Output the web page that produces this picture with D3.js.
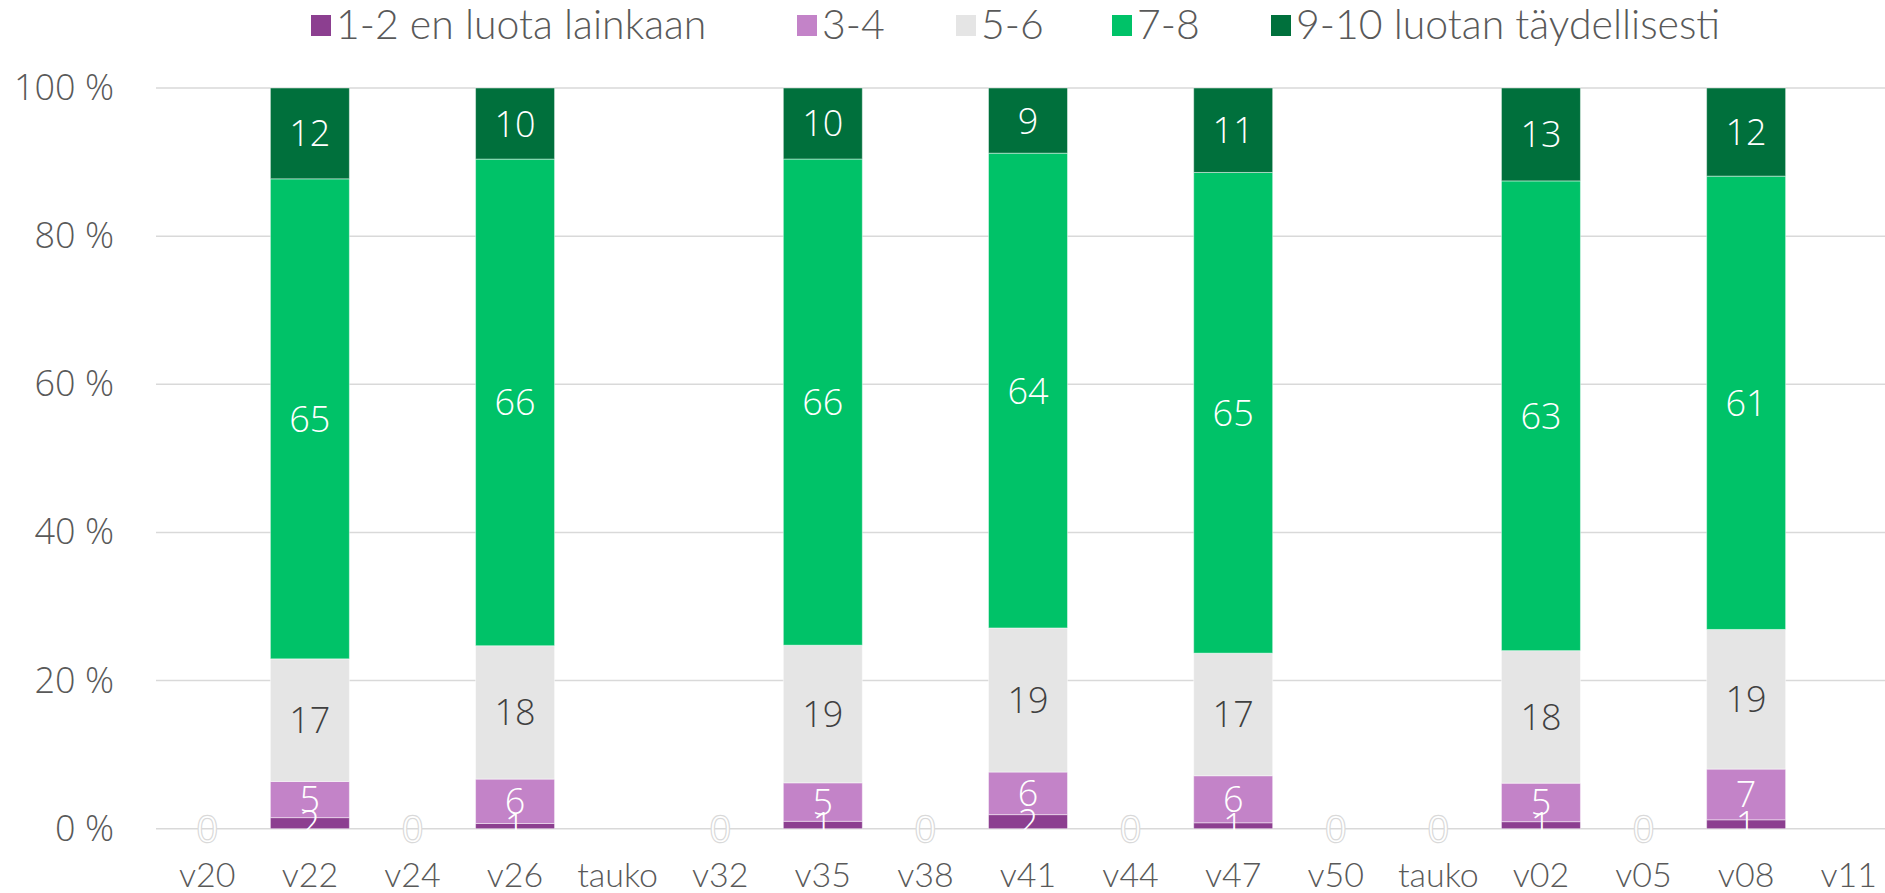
<!DOCTYPE html>
<html>
<head>
<meta charset="utf-8">
<script src="https://cdn.jsdelivr.net/npm/d3@7"></script>
<style>
    body { margin: 0; background: #fff; overflow: hidden; }
    #chart { width: 1885px; height: 893px; }
    .legend text { font-family: Lato, sans-serif; font-weight: 300; font-size: 41px; fill: #595959; }
    .x.axis text { font-family: Lato, sans-serif; font-weight: 300; font-size: 34px; fill: #595959; }
    .y.axis text { font-family: "Open Sans", sans-serif; font-weight: 300; font-size: 36px; fill: #595959; }
    .label { font-family: "Open Sans", sans-serif; font-weight: 300; font-size: 36px; }
    .label.zero { paint-order: stroke; font-size: 37px; }
</style>
</head>
<body>
<div id="chart"></div>
<script>
// weeks on the x axis ("tauko" = break)
const weeks = ['v20', 'v22', 'v24', 'v26', 'tauko', 'v32', 'v35', 'v38', 'v41', 'v44', 'v47', 'v50', 'tauko', 'v02', 'v05', 'v08', 'v11'];

const seriesNames = ['1-2 en luota lainkaan', '3-4', '5-6', '7-8', '9-10 luotan täydellisesti'];

// share of answers, % (null = no measurement)
const s1_2  = [0, 1.5,  0, 0.7,  null, 0, 1.0,  0, 1.9,   0, 0.8,   0, 0, 0.95,  0, 1.2,   null];
const s3_4  = [0, 4.9,  0, 6.0,  null, 0, 5.2,  0, 5.75,  0, 6.35,  0, 0, 5.2,   0, 6.85,  null];
const s5_6  = [0, 16.6, 0, 18.0, null, 0, 18.6, 0, 19.45, 0, 16.55, 0, 0, 17.9,  0, 18.85, null];
const s7_8  = [0, 65.0, 0, 65.7, null, 0, 65.7, 0, 64.1,  0, 64.9,  0, 0, 63.45, 0, 61.2,  null];
const s9_10 = [0, 12.3, 0, 9.6,  null, 0, 9.6,  0, 8.8,   0, 11.4,  0, 0, 12.55, 0, 11.9,  null];

const yTicks = [0, 0.2, 0.4, 0.6, 0.8, 1];

const colors = ['#8c3f90', '#c383c8', '#e5e5e5', '#00c268', '#00703c'];
const labelColors = ['#fff', '#fff', '#404040', '#fff', '#fff'];
const legendX = [311, 797, 956, 1112, 1271];

class StackedChart {

    constructor(opts) {
        this.element = opts.element;
        this.series = opts.series;
        this.draw();
    }

    draw() {
        this.width = 1885;
        this.height = 893;
        this.margin = { top: 88, right: -15, bottom: 64, left: 156 };

        this.rows = weeks.map((w, i) => {
            const row = { idx: i, week: w, empty: this.series.every(s => !s[i]) };
            this.series.forEach((s, k) => row[k] = s[i]);
            return row;
        });

        const svg = d3.select(this.element).append('svg')
            .attr('width', this.width)
            .attr('height', this.height);
        this.svg = svg;

        this.createScales();
        this.addGrid();
        this.addBars();
        this.addAxes();
        this.addLabels();
        this.addLegend();
    }

    createScales() {
        this.xScale = d3.scaleBand()
            .domain(weeks.map((w, i) => i))
            .range([this.margin.left, this.width - this.margin.right])
            .paddingInner(0.23)
            .paddingOuter(0.115);

        this.yScale = d3.scaleLinear()
            .domain([0, 1])
            .range([this.height - this.margin.bottom - 0.3, this.margin.top]);

        this.stacked = d3.stack()
            .keys(this.series.map((s, k) => k))
            .value((d, k) => d[k] || 0)
            .offset(d3.stackOffsetExpand)(this.rows);
    }

    addGrid() {
        this.svg.append('g')
            .selectAll('line')
            .data(yTicks)
            .join('line')
            .attr('x1', this.margin.left)
            .attr('x2', this.width)
            .attr('y1', d => this.yScale(d))
            .attr('y2', d => this.yScale(d))
            .attr('stroke', '#d9d9d9')
            .attr('stroke-width', 1.5);
    }

    addBars() {
        this.svg.append('g')
            .selectAll('g')
            .data(this.stacked)
            .join('g')
            .attr('fill', d => colors[d.key])
            .selectAll('rect')
            .data(d => d.filter(p => p[1] > p[0]))
            .join('rect')
            .attr('x', d => this.xScale(d.data.idx))
            .attr('width', this.xScale.bandwidth())
            .attr('y', d => this.yScale(d[1]))
            .attr('height', d => this.yScale(d[0]) - this.yScale(d[1]))
            .attr('stroke', '#fff')
            .attr('stroke-opacity', 0.45)
            .attr('stroke-width', 1);
    }

    addAxes() {
        const xAxis = d3.axisBottom(this.xScale)
            .tickFormat(i => weeks[i])
            .tickSize(0)
            .tickPadding(34);

        const yAxis = d3.axisLeft(this.yScale)
            .tickValues(yTicks)
            .tickFormat(d => Math.round(d * 100) + ' %')
            .tickSize(0)
            .tickPadding(42);

        this.svg.append('g')
            .attr('class', 'x axis')
            .attr('transform', `translate(0,${this.yScale(0)})`)
            .call(xAxis)
            .call(g => g.select('.domain').remove());

        this.svg.append('g')
            .attr('class', 'y axis')
            .attr('transform', `translate(${this.margin.left},0)`)
            .call(yAxis)
            .call(g => g.select('.domain').remove());
    }

    addLabels() {
        const labels = [];
        this.stacked.forEach(layer => {
            layer.forEach(p => {
                const v = p.data[layer.key];
                if (v === null) return;
                // empty weeks: every series has the same "0" at the base, draw it once
                if (p.data.empty && layer.key > 0) return;
                labels.push({ k: layer.key, p: p, v: v });
            });
        });

        this.svg.append('g')
            .selectAll('text')
            .data(labels)
            .join('text')
            .attr('class', d => d.p.data.empty ? 'label zero' : 'label')
            .attr('x', d => this.xScale(d.p.data.idx) + this.xScale.bandwidth() / 2)
            .attr('y', d => this.yScale((d.p[0] + d.p[1]) / 2))
            .attr('dy', '0.36em')
            .attr('text-anchor', 'middle')
            .attr('fill', d => d.p.data.empty ? '#fff' : labelColors[d.k])
            .attr('stroke', d => d.p.data.empty ? '#d9d9d9' : 'none')
            .attr('stroke-width', 2.5)
            .text(d => Math.round(d.v));
    }

    addLegend() {
        const item = this.svg.append('g')
            .attr('class', 'legend')
            .selectAll('g')
            .data(seriesNames)
            .join('g')
            .attr('transform', (d, i) => `translate(${legendX[i]},0)`);

        item.append('rect')
            .attr('y', 15)
            .attr('width', 20)
            .attr('height', 21)
            .attr('fill', (d, i) => colors[i]);

        item.append('text')
            .attr('x', 25)
            .attr('y', 39)
            .text(d => d);
    }
}

new StackedChart({
    element: document.getElementById('chart'),
    series: [s1_2, s3_4, s5_6, s7_8, s9_10]
});
</script>
</body>
</html>
